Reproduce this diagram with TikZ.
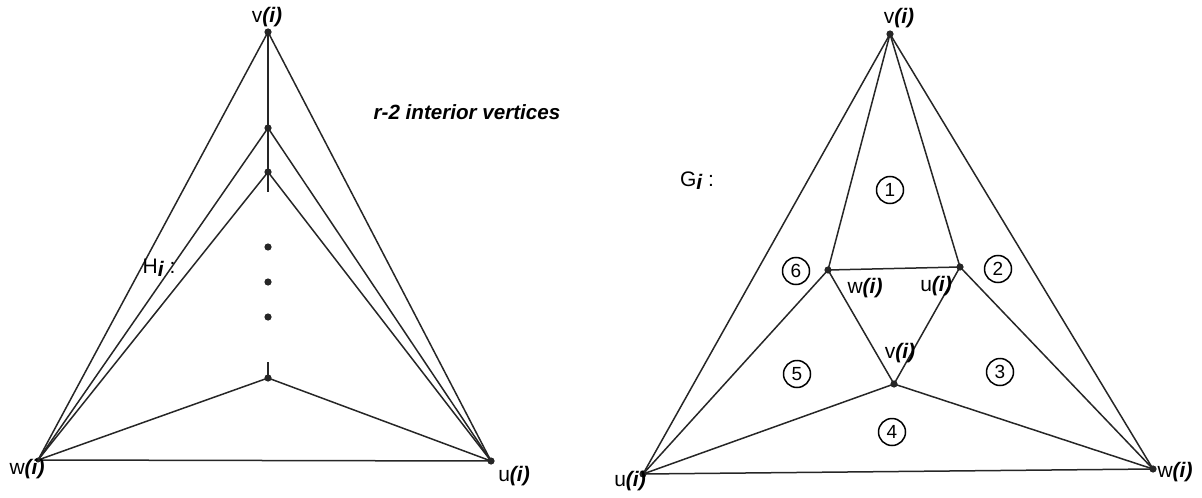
\documentclass[tikz,border=0pt]{standalone}
\usepackage{fontspec}
\setmainfont{Liberation Sans}
\newcommand{\ii}{{\bfseries\itshape(i)}}
\begin{document}
\begin{tikzpicture}[x=0.5pt,y=-0.5pt,
  edge/.style={line width=0.75pt,black!85},
  vdot/.style={circle,fill=black!85,inner sep=0pt,minimum size=3.6pt},
  lbl/.style={inner sep=0pt,font=\fontsize{10.5}{12}\selectfont},
  num/.style={circle,draw,line width=0.75pt,inner sep=0pt,minimum size=13.5pt,font=\fontsize{9.5}{10}\selectfont}]
\useasboundingbox (0,0) rectangle (1202,497);
% ---------- left: H_i ----------
\node[vdot] (vL) at (268,32) {};
\node[vdot] (a1) at (268,128) {};
\node[vdot] (a2) at (268,172) {};
\node[vdot] (a3) at (268,378) {};
\node[vdot,minimum size=2.5pt] (wL) at (38,460) {};
\node[vdot] (uL) at (491,461) {};
\coordinate (t1) at (268,192);
\coordinate (t2) at (268,362);
\node[vdot] (d1) at (268,247) {};
\node[vdot] (d2) at (268,282) {};
\node[vdot] (d3) at (268,317) {};
\draw[edge] (vL.center) -- (t1);
\draw[edge] (t2) -- (a3.center);
\foreach \n in {vL,a1,a2,a3}{
  \draw[edge] (\n.center) -- (wL.center);
  \draw[edge] (\n.center) -- (uL.center);
}
\draw[edge] (wL.center) -- (uL.center);
\node[lbl] (lvL) at (267,17) {v\ii};
\node[lbl] (lwL) at (27,469) {w\ii};
\node[lbl] (luL) at (514,476) {u\ii};
\node[lbl] (H) at (159,268) {H\raisebox{-0.3ex}{\bfseries\itshape i} :};
\node[inner sep=0pt,font=\fontsize{10.3}{12}\selectfont\bfseries\itshape] (rv) at (467,112) {r-2 interior vertices};
% ---------- right: G_i ----------
\node[vdot] (vR) at (890,34) {};
\node[vdot] (uR) at (643,474) {};
\node[vdot] (wR) at (1153,469) {};
\node[vdot] (p) at (828,270) {};
\node[vdot] (q) at (960,267) {};
\node[vdot] (r) at (894,384) {};
\draw[edge] (vR.center) -- (uR.center) -- (wR.center) -- cycle;
\draw[edge] (p.center) -- (q.center) -- (r.center) -- cycle;
\draw[edge] (vR.center) -- (p.center);
\draw[edge] (vR.center) -- (q.center);
\draw[edge] (p.center) -- (uR.center);
\draw[edge] (r.center) -- (uR.center);
\draw[edge] (q.center) -- (wR.center);
\draw[edge] (r.center) -- (wR.center);
\node[lbl] (lvR) at (899,18) {v\ii};
\node[lbl] (luR) at (630,481) {u\ii};
\node[lbl] (lwR) at (1175,472) {w\ii};
\node[lbl] (lp) at (865,288) {w\ii};
\node[lbl] (lq) at (936,286) {u\ii};
\node[lbl] (lr) at (900,353) {v\ii};
\node[lbl] (G) at (697,181) {G\raisebox{-0.3ex}{\bfseries\itshape i} :};
\node[num] (c1) at (890,190) {1};
\node[num] (c2) at (998,269) {2};
\node[num] (c3) at (1000,372) {3};
\node[num] (c4) at (892,432) {4};
\node[num] (c5) at (797,374) {5};
\node[num] (c6) at (796,271) {6};
\end{tikzpicture}
\end{document}
